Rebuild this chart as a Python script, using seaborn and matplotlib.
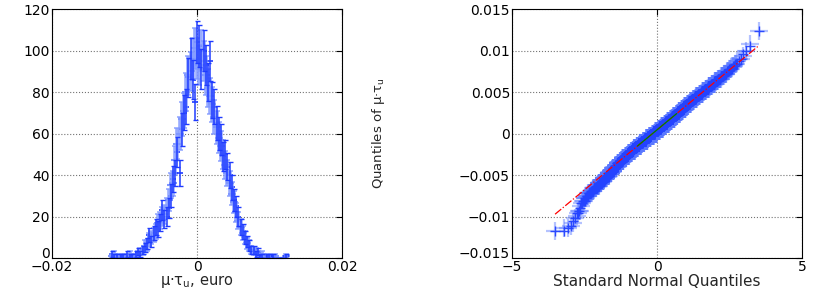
import numpy as np
import pandas as pd
import seaborn as sns
import matplotlib
matplotlib.use("Agg")
import matplotlib.pyplot as plt
import matplotlib.transforms as mtransforms
from statistics import NormalDist

# histogram of mu*tau_u (bin width 0.0003), two overlaid estimates
bin_first = -0.0117
bin_last = 0.0123
counts_dark = [2, 1, 1, 0, 1, 1, 0, 2, 1, 1,
               0, 2, 3, 2, 4, 5, 7, 11, 8, 12,
               15, 14, 17, 23, 19, 20, 24, 30, 38, 41,
               51, 41, 62, 70, 73, 87, 96, 86, 75, 104,
               102, 91, 100, 93, 85, 95, 76, 73, 65, 60,
               57, 49, 50, 44, 40, 34, 28, 25, 20, 15,
               13, 10, 8, 6, 4, 4, 2, 3, 1, 1,
               0, 1, 1, 0, 1, 0, 0, 0, 0, 0,
               1]
counts_light = [1, 2, 1, 1, 0, 1, 1, 1, 2, 0,
                1, 1, 2, 3, 3, 6, 6, 9, 10, 11,
                13, 17, 18, 20, 21, 24, 28, 35, 36, 47,
                55, 60, 67, 71, 80, 88, 90, 96, 101, 96,
                93, 100, 95, 88, 82, 78, 74, 68, 63, 58,
                54, 50, 45, 41, 36, 31, 27, 22, 18, 15,
                12, 10, 7, 6, 4, 3, 3, 2, 1, 2,
                1, 0, 1, 0, 0, 1, 0, 0, 0, 0,
                1]

centers = np.linspace(bin_first, bin_last, len(counts_dark))
hist = pd.DataFrame({"x": centers, "dark": counts_dark, "light": counts_light})


def qq_frame(counts):
    vals = np.sort(np.repeat(centers, counts))
    n = len(vals)
    nd = NormalDist()
    z = np.array([nd.inv_cdf((i + 0.5) / n) for i in range(n)])
    return pd.DataFrame({"z": z, "q": vals})


qq_dark = qq_frame(counts_dark)
qq_light = qq_frame(counts_light)

sns.set_style("white")
plt.rcParams["font.family"] = ["DejaVu Sans"]

fig = plt.figure(figsize=(8.3, 2.91), dpi=100)
ax1 = fig.add_axes([0.0627, 0.1134, 0.3494, 0.8556])
ax2 = fig.add_axes([0.617, 0.1134, 0.3494, 0.8556])

light_c = "#7f97ff"
dark_c = "#1f3cff"

# left: histogram with sqrt(N) error bars
ax1.errorbar(hist["x"], hist["light"], yerr=np.sqrt(hist["light"]), fmt="none",
             ecolor=light_c, elinewidth=2.6, capsize=2.5, capthick=1.2, alpha=0.8)
ax1.errorbar(hist["x"], hist["dark"], yerr=np.sqrt(hist["dark"]), fmt="none",
             ecolor=dark_c, elinewidth=1.1, capsize=1.8, capthick=1.0)
sns.scatterplot(data=hist, x="x", y="light", marker="_", s=30, color=light_c,
                linewidth=1.5, ax=ax1, clip_on=False, legend=False)
sns.scatterplot(data=hist, x="x", y="dark", marker="_", s=16, color=dark_c,
                linewidth=1.2, ax=ax1, clip_on=False, legend=False)
ax1.set_xlim(-0.02, 0.02)
ax1.set_ylim(0, 120)
ax1.set_xticks([-0.02, 0, 0.02])
ax1.set_xticklabels(["\u22120.02", "0", "0.02"])
ax1.set_yticks(range(0, 121, 20))
ax1.set_xlabel("μ·τ$_\\mathrm{u}$, euro", fontsize=10.5)
ax1.set_ylabel("")

# right: normal QQ plot
sns.scatterplot(data=qq_light, x="z", y="q", marker="+", s=150, color="#5a78ff",
                linewidth=1.6, alpha=0.45, ax=ax2, legend=False)
sns.scatterplot(data=qq_dark, x="z", y="q", marker="+", s=55, color="#2443ff",
                linewidth=1.0, alpha=0.95, ax=ax2, legend=False)
q1, q3 = np.percentile(qq_dark["q"], [25, 75])
z1, z3 = -0.6745, 0.6745
slope = (q3 - q1) / (z3 - z1)
icpt = q1 - slope * z1
zr = np.array([qq_dark["z"].min(), qq_dark["z"].max()])
ax2.plot(zr, icpt + slope * zr, color="red", linestyle="-.", linewidth=0.9)
zq = np.array([z1, z3])
ax2.plot(zq, icpt + slope * zq, color="green", linewidth=0.9)
ax2.set_xlim(-5, 5)
ax2.set_ylim(-0.015, 0.015)
ax2.set_xticks([-5, 0, 5])
ax2.set_xticklabels(["\u22125", "0", "5"])
ax2.set_yticks([-0.015, -0.01, -0.005, 0, 0.005, 0.01, 0.015])
ax2.set_yticklabels(["\u22120.015", "\u22120.01", "\u22120.005", "0",
                     "0.005", "0.01", "0.015"])
ax2.set_xlabel("Standard Normal Quantiles", fontsize=11)
ax2.set_ylabel("Quantiles of μ·τ$_\\mathrm{u}$", fontsize=9.5)
ax2.yaxis.set_label_coords(-0.43, 0.5)

lift = mtransforms.ScaledTranslation(0, 4 / 72, fig.dpi_scale_trans)
for ax in (ax1, ax2):
    ax.grid(True, linestyle=":", color="0.45", linewidth=0.8)
    ax.tick_params(direction="in", length=4, width=0.8, top=True, right=True,
                   labelsize=10, pad=1.5, colors="black")
    ax.xaxis.label.set_va("center")
    ax.xaxis.set_label_coords(0.5, -0.093)
    for sp in ax.spines.values():
        sp.set_visible(True)
        sp.set_color("black")
        sp.set_linewidth(0.8)
    # lowest y tick label sits just above the x tick labels, as in the original
    lab = ax.get_yticklabels()[0]
    lab.set_transform(lab.get_transform() + lift)

fig.savefig("out.png", dpi=100)
